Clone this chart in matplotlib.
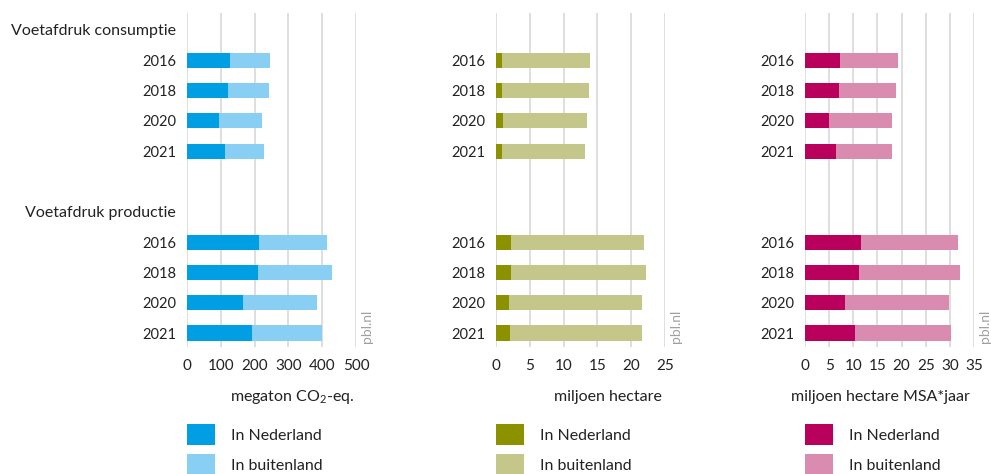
"""Voetafdruk consumptie vs productie: three stacked horizontal bar panels."""

import matplotlib

matplotlib.use("Agg")
import matplotlib.pyplot as plt  # noqa: E402

plt.rcParams["font.family"] = ["Lato", "DejaVu Sans"]
plt.rcParams["mathtext.default"] = "regular"

# row layout: heading, 4 years, blank, heading, 4 years
ROW_LABELS = ["Voetafdruk consumptie", "2016", "2018", "2020", "2021", "",
              "Voetafdruk productie", "2016", "2018", "2020", "2021"]
BAR_ROWS = [1, 2, 3, 4, 7, 8, 9, 10]

co2_nl = [127, 122, 94, 112, 214, 210, 166, 192]
co2_tot = [246, 242, 222, 229, 415, 430, 384, 398]
land_nl = [0.84, 0.84, 0.98, 0.84, 2.16, 2.16, 1.97, 2.06]
land_tot = [13.9, 13.76, 13.47, 13.2, 21.9, 22.2, 21.6, 21.6]
bio_nl = [7.2, 7.0, 5.0, 6.5, 11.5, 11.2, 8.2, 10.4]
bio_tot = [19.3, 18.9, 18.0, 18.0, 31.7, 32.2, 29.75, 30.3]

PANELS = [
    # values NL, totals, xmax, step, unit, colours (NL, buitenland)
    (co2_nl, co2_tot, 500, 100, "megaton CO$_2$-eq.", ("#009fe3", "#89cff4")),
    (land_nl, land_tot, 25, 5, "miljoen hectare", ("#8c9100", "#c5c68a")),
    (bio_nl, bio_tot, 35, 5, "miljoen hectare MSA*jaar", ("#b8005c", "#d98cb0")),
]

W, H = 991, 474
AX_LEFT = [187, 496, 805]          # pixel x of each zero line
AX_W = 169
AX_TOP, AX_BOT = 13, 347
LABEL_X = [292, 608, 880]          # centre of unit labels (px)
TEXT_C = "#222222"
FS = 11.5

fig = plt.figure(figsize=(W / 100, H / 100), dpi=100)

for k, (nl, tot, xmax, step, unit, (c_nl, c_bu)) in enumerate(PANELS):
    ax = fig.add_axes([AX_LEFT[k] / W, 1 - AX_BOT / H, AX_W / W, (AX_BOT - AX_TOP) / H])
    bu = [t - n for t, n in zip(tot, nl)]
    h1 = ax.barh(BAR_ROWS, nl, height=0.5, color=c_nl, label="In Nederland")
    h2 = ax.barh(BAR_ROWS, bu, left=nl, height=0.5, color=c_bu, label="In buitenland")

    ax.set_xlim(0, xmax)
    ax.set_ylim(10.46, -0.56)
    ax.set_xticks(range(0, xmax + 1, step))
    ax.grid(axis="x", color="#dcdcdc", lw=1.3)
    ax.set_axisbelow(True)
    for s in ax.spines.values():
        s.set_visible(False)
    ax.tick_params(length=0, labelcolor=TEXT_C)
    ax.tick_params(axis="x", pad=9, labelsize=11)
    ax.tick_params(axis="y", pad=8, labelsize=10.5)
    ax.set_yticks(range(len(ROW_LABELS)))
    if k == 0:
        ax.set_yticklabels(ROW_LABELS)
        for t in ax.get_yticklabels():
            if not t.get_text().isdigit():
                t.set_fontsize(FS)
    else:
        ax.set_yticklabels([lab if lab.isdigit() else "" for lab in ROW_LABELS])

    ax.text(1 + 11 / AX_W, 4 / (AX_BOT - AX_TOP), "pbl.nl", transform=ax.transAxes,
            rotation=90, ha="center", va="bottom", fontsize=10, color="#a0a0a0")

    fig.text(LABEL_X[k] / W, 1 - 397 / H, unit, ha="center", va="center",
             fontsize=FS, color=TEXT_C)

    ax.legend(handles=[h1, h2], loc="upper left",
              bbox_to_anchor=(0, (AX_BOT - 424) / (AX_BOT - AX_TOP)),
              frameon=False, fontsize=FS, labelcolor=TEXT_C,
              handlelength=1.75, handleheight=1.65, handletextpad=1.0,
              labelspacing=0.56, borderpad=0, borderaxespad=0)

fig.savefig("out.png", dpi=100)
